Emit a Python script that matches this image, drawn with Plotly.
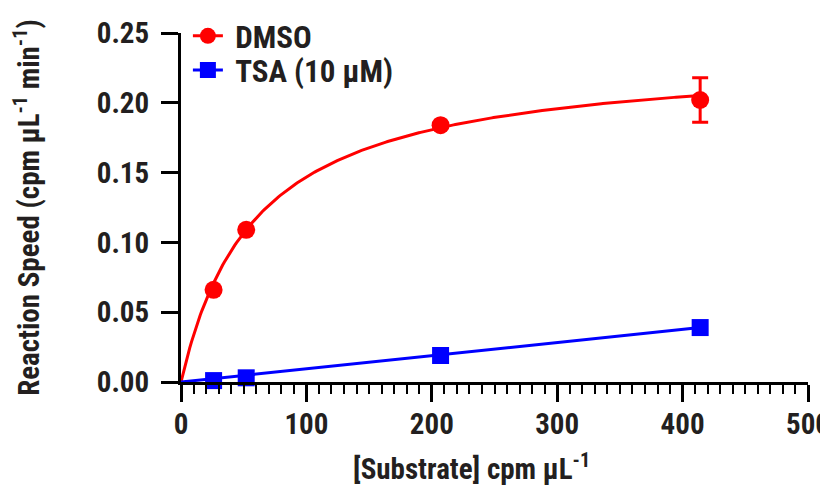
import numpy as np
import plotly.graph_objects as go

# Data
substrate = [26, 52, 207, 414]
dmso_speed = [0.066, 0.109, 0.184, 0.202]
dmso_err = [0, 0, 0, 0.016]
tsa_speed = [0.001, 0.003, 0.019, 0.039]

# Fit parameters (Michaelis-Menten for DMSO, near-linear for TSA)
dmso_vmax = 0.235
dmso_km = 60.0
tsa_slope = 0.039 / 414

x_ticks = [0, 100, 200, 300, 400, 500]
y_ticks = [0.00, 0.05, 0.10, 0.15, 0.20, 0.25]

RED = "#ff0000"
BLUE = "#0000ff"
FONT = "Roboto Condensed"
TXT = "#231f20"

xfit = np.linspace(0, max(substrate), 300)
dmso_fit = dmso_vmax * xfit / (dmso_km + xfit)
tsa_fit = tsa_slope * xfit

fig = go.Figure()
fig.add_trace(go.Scatter(x=xfit, y=dmso_fit, mode="lines", line=dict(color=RED, width=3),
                         showlegend=False, hoverinfo="skip", cliponaxis=False))
fig.add_trace(go.Scatter(x=xfit, y=tsa_fit, mode="lines", line=dict(color=BLUE, width=3),
                         showlegend=False, hoverinfo="skip", cliponaxis=False))
fig.add_trace(go.Scatter(x=substrate, y=dmso_speed, mode="markers",
                         marker=dict(symbol="circle", size=18, color=RED),
                         error_y=dict(type="data", array=dmso_err, color=RED, thickness=3, width=8),
                         showlegend=False, cliponaxis=False))
fig.add_trace(go.Scatter(x=substrate, y=tsa_speed, mode="markers",
                         marker=dict(symbol="square", size=17, color=BLUE),
                         showlegend=False, cliponaxis=False))
# legend entries (two legends for exact row placement)
fig.add_trace(go.Scatter(x=[None], y=[None], mode="lines+markers", name="\u2005DMSO",
                         line=dict(color=RED, width=3), legend="legend",
                         marker=dict(symbol="circle", size=18, color=RED)))
fig.add_trace(go.Scatter(x=[None], y=[None], mode="lines+markers", name="\u2005TSA (10 μM)",
                         line=dict(color=BLUE, width=3), legend="legend2",
                         marker=dict(symbol="square", size=17, color=BLUE)))

legend_common = dict(xanchor="left", yanchor="middle", bgcolor="rgba(0,0,0,0)",
                     font=dict(size=31, family=FONT, color=TXT, weight=700),
                     itemwidth=30, borderwidth=0)

fig.update_layout(
    width=820, height=477,
    margin=dict(l=173, r=20, t=25, b=103, autoexpand=False),
    paper_bgcolor="white", plot_bgcolor="white",
    font=dict(family=FONT, size=29, color=TXT, weight=700),
    showlegend=True,
    legend=dict(x=0.011, y=0.991, **legend_common),
    legend2=dict(x=0.011, y=0.893, **legend_common),
)
fig.update_xaxes(
    range=[0, 500], tickvals=x_ticks, ticktext=[str(v) for v in x_ticks],
    showline=True, linecolor="black", linewidth=3, automargin=False,
    ticks="outside", ticklen=17, tickwidth=3, tickcolor="black",
    minor=dict(dtick=10, tick0=0, ticks="outside", ticklen=9, tickwidth=2, tickcolor="black"),
    showgrid=False, zeroline=False, ticklabelstandoff=-3, ticklabeloverflow="allow",
    tickfont=dict(size=29, family=FONT, color=TXT, weight=700),
)
fig.update_yaxes(
    range=[0, 0.25], tickvals=y_ticks, ticktext=[f"{v:.2f}" for v in y_ticks],
    showline=True, linecolor="black", linewidth=3, automargin=False,
    ticks="outside", ticklen=17, tickwidth=3, tickcolor="black",
    showgrid=False, zeroline=False, ticklabelstandoff=6, ticklabeloverflow="allow",
    tickfont=dict(size=29, family=FONT, color=TXT, weight=700),
    title=dict(text="Reaction Speed (cpm μL<sup>-1</sup> min<sup>-1</sup>)",
               font=dict(size=29, family=FONT, color=TXT, weight=700), standoff=57),
)
fig.add_annotation(xref="paper", yref="paper", x=0.463, y=-0.243, xanchor="center", yanchor="middle",
                   text="[Substrate] cpm μL<sup>-1</sup>", showarrow=False,
                   font=dict(size=29, family=FONT, color=TXT, weight=700))

fig.write_html("out.html")
